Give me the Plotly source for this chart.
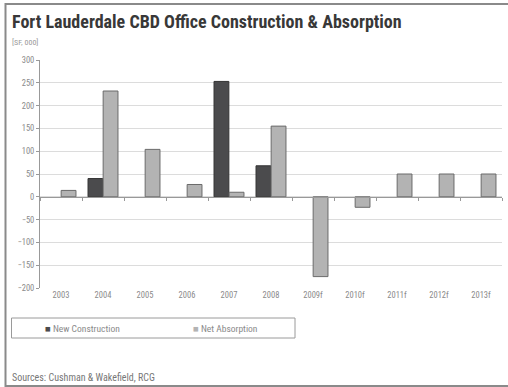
import plotly.graph_objects as go

categories = ["2003", "2004", "2005", "2006", "2007", "2008", "2009f", "2010f", "2011f", "2012f", "2013f"]
new_construction = [None, 40, None, None, 253, 68, None, None, None, None, None]
net_absorption = [14, 232, 104, 27, 10, 155, -175, -23, 50, 50, 50]
y_ticks = [300, 250, 200, 150, 100, 50, 0, -50, -100, -150, -200]
series_names = ["New Construction", "Net Absorption"]
series_colors = ["#4b4b4d", "#b3b3b3"]
series_lines = ["#333333", "#6a6a6a"]

FONT = "Liberation Sans Narrow, Roboto Condensed, Roboto, Arial Narrow, sans-serif"
W, H = 508, 387
ML, MR, MT, MB = 40, 6, 60, 99
PW, PH = W - ML - MR, H - MT - MB


def px(x):
    return (x - ML) / PW


def py(y):
    return (H - MB - y) / PH


fig = go.Figure()
for name, vals, col, lc in zip(series_names, [new_construction, net_absorption], series_colors, series_lines):
    fig.add_trace(go.Bar(
        x=categories, y=vals, name=name, showlegend=False,
        marker=dict(color=col, line=dict(color=lc, width=1)),
    ))

zero_pos = (0 - (-200)) / 500.0

fig.update_layout(
    width=W, height=H,
    margin=dict(l=ML, r=MR, t=MT, b=MB, autoexpand=False),
    paper_bgcolor="white", plot_bgcolor="white",
    barmode="group", bargap=0.28, bargroupgap=0.02,
    font=dict(family=FONT, size=8, color="#888888"),
    showlegend=False,
    xaxis=dict(
        type="category", anchor="free", position=zero_pos,
        showline=True, linecolor="#999999", linewidth=1,
        ticks="outside", tickson="boundaries", ticklen=3, tickcolor="#999999",
        showticklabels=False, showgrid=False, zeroline=False,
    ),
    xaxis2=dict(
        overlaying="x", anchor="y", side="bottom",
        range=[-0.5, len(categories) - 0.5],
        tickmode="array", tickvals=list(range(len(categories))), ticktext=categories,
        showline=False, showgrid=False, zeroline=False, ticks="",
        tickfont=dict(family=FONT, size=8.5, color="#8a8a8a"),
    ),
    yaxis=dict(
        range=[-200, 300], tickmode="array", tickvals=y_ticks,
        showgrid=True, gridcolor="#dcdcdc", gridwidth=1,
        zeroline=False, showline=True, linecolor="#999999", linewidth=1,
        ticks="outside", ticklen=3, tickcolor="#999999",
        tickfont=dict(family=FONT, size=8.5, color="#8a8a8a"),
    ),
)

fig.add_trace(go.Scatter(x=[], y=[], xaxis="x2", yaxis="y", showlegend=False, hoverinfo="skip"))

# outer frame
fig.add_shape(type="rect", xref="paper", yref="paper",
              x0=px(5.5), x1=px(W + 5), y0=py(386), y1=py(4),
              line=dict(color="#8a8a8a", width=2), layer="below")
# legend box
fig.add_shape(type="rect", xref="paper", yref="paper",
              x0=px(11.5), x1=px(295), y0=py(338), y1=py(318),
              line=dict(color="#9a9a9a", width=1), layer="below")

# legend entries
legend_x = [43, 191]
for lx, name, col in zip(legend_x, series_names, series_colors):
    fig.add_annotation(
        text=f"<span style='color:{col}'>■</span> {name}",
        xref="paper", yref="paper", x=px(lx), y=py(328),
        xanchor="left", yanchor="middle", showarrow=False,
        font=dict(family=FONT, size=9.5, color="#8a8a8a"))

fig.add_annotation(text="<b>Fort Lauderdale CBD Office Construction &amp; Absorption</b>",
                   xref="paper", yref="paper", x=px(10), y=py(9),
                   xanchor="left", yanchor="top", showarrow=False,
                   font=dict(family=FONT, size=18, color="#383838"))
fig.add_annotation(text="[SF, 000]",
                   xref="paper", yref="paper", x=px(10), y=py(36),
                   xanchor="left", yanchor="top", showarrow=False,
                   font=dict(family=FONT, size=8, color="#999999"))
fig.add_annotation(text="Sources: Cushman &amp; Wakefield, RCG",
                   xref="paper", yref="paper", x=px(10), y=py(370),
                   xanchor="left", yanchor="top", showarrow=False,
                   font=dict(family=FONT, size=10, color="#777777"))

fig.write_html("out.html", config={"displayModeBar": False},
               post_script="document.body.style.margin='0';document.body.style.overflow='hidden';")
